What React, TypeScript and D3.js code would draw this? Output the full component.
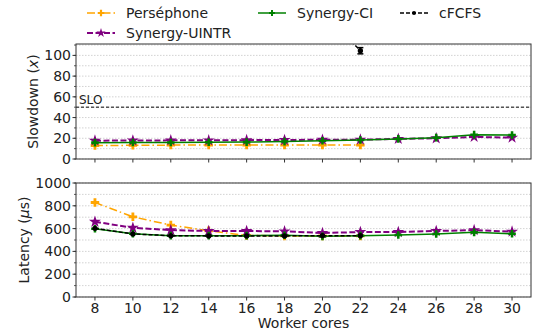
import * as d3 from 'd3';

const cores = [8, 10, 12, 14, 16, 18, 20, 22, 24, 26, 28, 30];

// slowdown (x)
const persephoneSlow = [13, 13.2, 13.4, 13.4, 13.4, 13.5, 13.5, 13.5];
const uintrSlow = [17.7, 17.8, 18, 18, 18.2, 18.3, 18.6, 18.7, 19.4, 20, 21.3, 20.6];
const ciSlow = [15.8, 15.9, 16, 16.1, 16.3, 16.8, 17.6, 18.4, 19.4, 20.6, 23.5, 23.2];
const fcfsSlow = [2500, 1900, 1400, 900, 600, 350, 143, 104.5];
const fcfsSlowErr = [0, 0, 0, 0, 0, 0, 0, 3];

// latency (us)
const persephoneLat = [829, 703, 631, 581, 540, 536, 536, 536];
const uintrLat = [660, 607, 587, 579, 579, 576, 561, 570, 570, 579, 587, 573];
const ciLat = [599, 555, 538, 538, 538, 541, 532, 538, 544, 552, 567, 555];
const fcfsLat = [602, 553, 538, 536, 536, 536, 538, 538];

const slowTicks = [0, 20, 40, 60, 80, 100];
const latTicks = [0, 200, 400, 600, 800, 1000];
const xTicks = [8, 10, 12, 14, 16, 18, 20, 22, 24, 26, 28, 30];
const slo = 50;

const W = 536;
const H = 335;
const left = 76;
const right = 531;
const top1 = 44;
const bot1 = 159;
const top2 = 183;
const bot2 = 297;
const font = 'DejaVu Sans, sans-serif';

const x = d3.scaleLinear().domain([7, 31]).range([left, right]);
const y1 = d3.scaleLinear().domain([0, 111]).range([bot1, top1]);
const y2 = d3.scaleLinear().domain([0, 1000]).range([bot2, top2]);

interface Series {
  name: string;
  color: string;
  dash: string;
  width: number;
  marker: 'plus' | 'star' | 'dot';
  size: number;
}

const sPers: Series = { name: 'Perséphone', color: '#FFA500', dash: '8,3,1.5,3', width: 1.5, marker: 'plus', size: 40 };
const sUintr: Series = { name: 'Synergy-UINTR', color: '#800080', dash: '6,2.5', width: 2, marker: 'star', size: 45 };
const sCi: Series = { name: 'Synergy-CI', color: '#008000', dash: '', width: 1.5, marker: 'plus', size: 32 };
const sFcfs: Series = { name: 'cFCFS', color: '#000000', dash: '4,2', width: 1.5, marker: 'dot', size: 22 };

function symPath(s: Series, size?: number) {
  const type = s.marker === 'plus' ? d3.symbolCross : s.marker === 'star' ? d3.symbolStar : d3.symbolCircle;
  return d3.symbol().type(type).size(size ?? s.size)() as string;
}

function Line({ s, vals, y, clip }: { s: Series; vals: number[]; y: d3.ScaleLinear<number, number>; clip: string }) {
  const pts: [number, number][] = vals.map((v, i) => [cores[i], v]);
  const line = d3.line<[number, number]>().x((d) => x(d[0])).y((d) => y(d[1]));
  return (
    <g clipPath={`url(#${clip})`}>
      <path d={line(pts) as string} fill="none" stroke={s.color} strokeWidth={s.width} strokeDasharray={s.dash || undefined} />
      {pts.map((d, i) => (
        <path key={i} d={symPath(s)} transform={`translate(${x(d[0])},${y(d[1])})`} fill={s.color} />
      ))}
    </g>
  );
}

function Panel({ y, top, bot, ticks, minor, label, clip, showX, children }: any) {
  return (
    <g>
      <defs>
        <clipPath id={clip}>
          <rect x={left} y={top} width={right - left} height={bot - top} />
        </clipPath>
      </defs>
      {minor.map((t: number) => (
        <line key={'g' + t} x1={left} x2={right} y1={y(t)} y2={y(t)} stroke="#c8c8c8" strokeWidth={0.8} strokeDasharray="1.5,1.5" />
      ))}
      {children}
      <rect x={left} y={top} width={right - left} height={bot - top} fill="none" stroke="#333" strokeWidth={1} />
      {minor.map((t: number) => (
        <line key={'m' + t} x1={left} x2={left - 2} y1={y(t)} y2={y(t)} stroke="#333" strokeWidth={0.8} />
      ))}
      {ticks.map((t: number) => (
        <g key={'t' + t}>
          <line x1={left} x2={left - 3.5} y1={y(t)} y2={y(t)} stroke="#333" strokeWidth={1} />
          <text x={left - 5} y={y(t)} dy="0.36em" textAnchor="end" fontSize={14} fontFamily={font} fill="#222">
            {t}
          </text>
        </g>
      ))}
      {xTicks.map((t) => (
        <g key={'x' + t}>
          <line x1={x(t)} x2={x(t)} y1={bot} y2={bot + 3.5} stroke="#333" strokeWidth={1} />
          {showX && (
            <text x={x(t)} y={bot + 16} textAnchor="middle" fontSize={14} fontFamily={font} fill="#222">
              {t}
            </text>
          )}
        </g>
      ))}
      {label}
    </g>
  );
}

function LegendItem({ s, lx, ly }: { s: Series; lx: number; ly: number }) {
  return (
    <g>
      <line x1={lx} x2={lx + 28} y1={ly} y2={ly} stroke={s.color} strokeWidth={s.width} strokeDasharray={s.dash || undefined} />
      <path d={symPath(s, s.size * 0.6)} transform={`translate(${lx + 14},${ly})`} fill={s.color} />
      <text x={lx + 39} y={ly} dy="0.36em" fontSize={14} fontFamily={font} fill="#222">
        {s.name}
      </text>
    </g>
  );
}

export default function App() {
  const minor1 = d3.range(0, 111, 10);
  const minor2 = d3.range(0, 1001, 100);
  const ex = x(22);
  const errLo = y1(fcfsSlow[7] - fcfsSlowErr[7]);
  const errHi = y1(fcfsSlow[7] + fcfsSlowErr[7]);

  return (
    <svg width={W} height={H} style={{ position: 'absolute', left: 0, top: 0, background: '#fff' }}>
      <LegendItem s={sPers} lx={87} ly={13} />
      <LegendItem s={sUintr} lx={87} ly={33} />
      <LegendItem s={sCi} lx={258} ly={13} />
      <LegendItem s={sFcfs} lx={400} ly={13} />

      <Panel
        y={y1}
        top={top1}
        bot={bot1}
        ticks={slowTicks}
        minor={minor1}
        clip="c1"
        showX={false}
        label={
          <text transform={`translate(33,${(top1 + bot1) / 2}) rotate(-90)`} dy="0.36em" textAnchor="middle" fontSize={14} fontFamily={font} fill="#222">
            Slowdown (<tspan fontStyle="italic">x</tspan>)
          </text>
        }
      >
        <line x1={left} x2={right} y1={y1(slo)} y2={y1(slo)} stroke="#555" strokeWidth={1.5} strokeDasharray="3,2" />
        <text x={left + 3} y={y1(slo) - 3} fontSize={12} fontFamily={font} fill="#222">
          SLO
        </text>
        <Line s={sPers} vals={persephoneSlow} y={y1} clip="c1" />
        <Line s={sUintr} vals={uintrSlow} y={y1} clip="c1" />
        <Line s={sCi} vals={ciSlow} y={y1} clip="c1" />
        <Line s={sFcfs} vals={fcfsSlow} y={y1} clip="c1" />
        <g clipPath="url(#c1)">
          <line x1={ex} x2={ex} y1={errLo} y2={errHi} stroke="#000" strokeWidth={1.5} />
          <line x1={ex - 3} x2={ex + 3} y1={errLo} y2={errLo} stroke="#000" strokeWidth={1.5} />
          <line x1={ex - 3} x2={ex + 3} y1={errHi} y2={errHi} stroke="#000" strokeWidth={1.5} />
        </g>
      </Panel>

      <Panel
        y={y2}
        top={top2}
        bot={bot2}
        ticks={latTicks}
        minor={minor2}
        clip="c2"
        showX={true}
        label={
          <text transform={`translate(23.5,${(top2 + bot2) / 2}) rotate(-90)`} dy="0.36em" textAnchor="middle" fontSize={14} fontFamily={font} fill="#222">
            Latency (<tspan fontStyle="italic">μ</tspan>s)
          </text>
        }
      >
        <Line s={sPers} vals={persephoneLat} y={y2} clip="c2" />
        <Line s={sUintr} vals={uintrLat} y={y2} clip="c2" />
        <Line s={sCi} vals={ciLat} y={y2} clip="c2" />
        <Line s={sFcfs} vals={fcfsLat} y={y2} clip="c2" />
      </Panel>

      <text x={(left + right) / 2} y={328} textAnchor="middle" fontSize={14} fontFamily={font} fill="#222">
        Worker cores
      </text>
    </svg>
  );
}
